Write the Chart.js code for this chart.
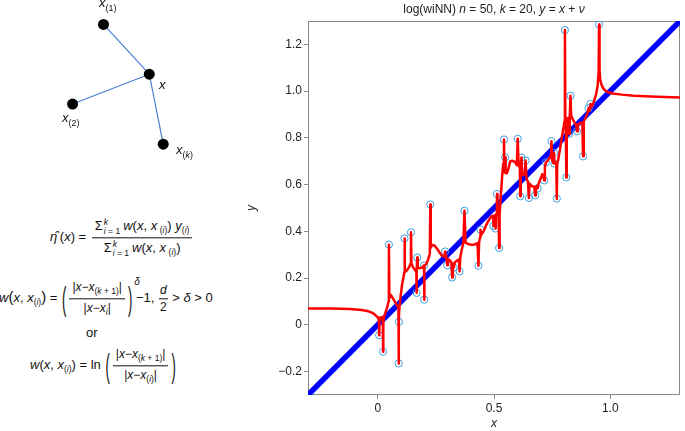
<!DOCTYPE html>
<html><head><meta charset="utf-8">
<script src="https://cdn.jsdelivr.net/npm/chart.js@4.4.0/dist/chart.umd.min.js"></script>
<style>
html,body{margin:0;padding:0;background:#fff;width:685px;height:431px;overflow:hidden;position:relative;font-family:"Liberation Sans",Arial,sans-serif;color:#111;}
#main{position:absolute;left:240px;top:0;}
#diag{position:absolute;left:0;top:0;}
.lbl{position:absolute;font-style:italic;font-size:13px;line-height:1;}
.lbl sub{font-size:9px;font-style:normal;vertical-align:-4px;}
.f{position:absolute;font-size:13px;white-space:nowrap;line-height:1.2;transform:translateY(-50%);}
.f i{font-style:italic;}
.frac{display:inline-block;vertical-align:middle;text-align:center;margin:0 2px;}
.frac .n{display:block;border-bottom:1px solid #111;padding:0 3px 2px;}
.frac .d{display:block;padding:2px 3px 0;}
.f sub{font-size:8.5px;vertical-align:-3px;}
.lim{display:inline-block;vertical-align:middle;font-size:8.5px;line-height:8.5px;text-align:left;margin:0 3px 0 1px;}
.lim span{display:block;}
.bp{display:inline-block;vertical-align:middle;transform:scale(1,2.6);font-size:13px;margin:0 1px;}
.mp{font-size:15px;}
.sd{position:relative;top:-17px;font-size:10px;font-style:italic;margin-left:1px;}
.small{font-size:12px;}
</style>
</head><body>
<canvas id="diag" width="240" height="200"></canvas>
<div class="lbl" style="left:99px;top:-4px">x<sub>(1)</sub></div>
<div class="lbl" style="left:159px;top:78px">x</div>
<div class="lbl" style="left:62px;top:111px">x<sub>(2)</sub></div>
<div class="lbl" style="left:176px;top:143px">x<sub>(<i>k</i>)</sub></div>

<div class="f" style="left:50px;top:238px"><i>η̂</i>&#8201;(<i>x</i>) = <span class="frac"><span class="n">Σ<span class="lim"><span><i>k</i></span><span><i>i</i> = 1</span></span><i>w</i>(<i>x</i>, <i>x</i>&#8201;<sub>(<i>i</i>)</sub>) <i>y</i><sub>(<i>i</i>)</sub></span><span class="d">Σ<span class="lim"><span><i>k</i></span><span><i>i</i> = 1</span></span><i>w</i>(<i>x</i>, <i>x</i>&#8201;<sub>(<i>i</i>)</sub>)</span></span></div>

<div class="f" style="left:-1px;top:299px"><i>w</i><span class="mp">(</span><i>x</i>, <i>x</i><sub>(<i>i</i>)</sub><span class="mp">)</span> = <span class="bp">(</span><span class="frac small"><span class="n">|<i>x</i>−<i>x</i><sub>(<i>k</i> + 1)</sub>|</span><span class="d">|<i>x</i>−<i>x</i><sub><i>i</i></sub>|</span></span><span class="bp">)</span><span class="sd">δ</span><span style="margin-left:-4px">−1, </span><span class="frac" style="font-size:12px;margin:0 1px"><span class="n" style="padding:0 1px 1px"><i>d</i></span><span class="d" style="padding:1px 1px 0">2</span></span> &gt; <i>δ</i> &gt; 0</div>

<div class="f" style="left:86px;top:333px">or</div>

<div class="f" style="left:30px;top:366px"><i>w</i>(<i>x</i>, <i>x</i><sub>(<i>i</i>)</sub>) = ln <span class="bp">(</span><span class="frac small"><span class="n">|<i>x</i>−<i>x</i><sub>(<i>k</i> + 1)</sub>|</span><span class="d">|<i>x</i>−<i>x</i><sub>(<i>i</i>)</sub>|</span></span><span class="bp">)</span></div>

<canvas id="main" width="445" height="431"></canvas>
<script>
// ---- diagram nodes: x(1), x, x(2), x(k)
const nodeX = [102.7, 150.7, 70.3, 165.3];
const nodeY = [20, 72.7, 104.3, 146.7];
const edges = [[0,1],[2,1],[1,3]];

// ---- main chart data
const xTickValues = [0, 0.5, 1.0];
const xTickLabels = ['0', '0.5', '1.0'];
const yTickValues = [-0.2, 0, 0.2, 0.4, 0.6, 0.8, 1.0, 1.2];
const yTickLabels = ['\u22120.2', '0', '0.2', '0.4', '0.6', '0.8', '1.0', '1.2'];

const refLineX = [-0.3, 1.3];
const refLineY = [-0.3, 1.3];

const sampleX = [0.006,0.023,0.048,0.090,0.091,0.115,0.143,0.167,0.170,0.199,0.200,0.226,0.290,0.299,0.320,0.327,0.352,0.373,0.433,0.442,0.497,0.507,0.513,0.522,0.543,0.548,0.602,0.613,0.618,0.636,0.650,0.677,0.688,0.716,0.723,0.747,0.758,0.760,0.770,0.805,0.811,0.823,0.829,0.857,0.883,0.907,0.915,0.952];
const sampleY = [-0.044,-0.115,0.343,-0.165,0.013,0.370,0.396,0.137,0.288,0.254,0.108,0.515,0.314,0.255,0.203,0.245,0.229,0.488,0.253,0.407,0.423,0.412,0.560,0.329,0.793,0.717,0.796,0.550,0.716,0.703,0.543,0.554,0.584,0.618,0.695,0.786,0.736,0.690,0.540,1.261,0.631,0.817,0.980,0.828,0.721,0.927,0.945,1.285];

// red estimator curve
const curveX = [-0.30,-0.20,-0.12,-0.07,-0.04,-0.02,-0.008,0.002,0.005,0.006,0.007,0.010,0.016,0.020,0.022,0.023,0.024,0.027,0.034,0.042,0.046,0.048,0.050,0.056,0.066,0.077,0.085,0.089,0.090,0.0905,0.091,0.092,0.098,0.105,0.111,0.114,0.115,0.117,0.124,0.134,0.141,0.143,0.145,0.151,0.160,0.166,0.167,0.168,0.170,0.172,0.180,0.190,0.199,0.200,0.201,0.209,0.217,0.224,0.226,0.228,0.235,0.244,0.255,0.267,0.277,0.286,0.290,0.294,0.299,0.302,0.310,0.317,0.320,0.323,0.327,0.332,0.343,0.349,0.352,0.355,0.361,0.368,0.373,0.378,0.388,0.402,0.418,0.429,0.433,0.436,0.440,0.442,0.445,0.455,0.468,0.480,0.490,0.496,0.497,0.499,0.505,0.507,0.509,0.512,0.513,0.515,0.520,0.522,0.524,0.530,0.536,0.540,0.543,0.545,0.547,0.548,0.550,0.555,0.561,0.570,0.580,0.590,0.598,0.602,0.606,0.611,0.613,0.615,0.618,0.621,0.627,0.632,0.636,0.640,0.646,0.650,0.653,0.662,0.673,0.677,0.680,0.686,0.688,0.692,0.700,0.708,0.716,0.719,0.723,0.730,0.740,0.745,0.747,0.750,0.755,0.758,0.760,0.765,0.768,0.770,0.772,0.776,0.784,0.792,0.800,0.803,0.805,0.807,0.809,0.811,0.813,0.818,0.823,0.826,0.829,0.832,0.838,0.846,0.853,0.857,0.861,0.871,0.880,0.883,0.886,0.893,0.900,0.907,0.911,0.915,0.920,0.930,0.940,0.946,0.950,0.952,0.954,0.957,0.962,0.970,0.980,0.995,1.010,1.050,1.10,1.20,1.30];
const curveY = [0.070,0.070,0.068,0.064,0.058,0.050,0.040,0.030,0.015,-0.044,0.015,0.030,0.034,0.030,0.010,-0.115,0.010,0.035,0.055,0.080,0.100,0.343,0.115,0.128,0.112,0.093,0.082,0.070,-0.165,0.050,0.013,0.060,0.120,0.175,0.205,0.225,0.370,0.225,0.232,0.245,0.262,0.396,0.262,0.248,0.235,0.228,0.137,0.235,0.288,0.245,0.242,0.245,0.254,0.108,0.250,0.262,0.280,0.305,0.515,0.330,0.342,0.340,0.326,0.308,0.295,0.292,0.314,0.295,0.255,0.282,0.276,0.268,0.203,0.262,0.245,0.268,0.276,0.280,0.229,0.288,0.320,0.350,0.488,0.352,0.346,0.343,0.344,0.350,0.253,0.355,0.375,0.407,0.385,0.400,0.430,0.452,0.465,0.466,0.423,0.462,0.470,0.412,0.472,0.480,0.560,0.480,0.470,0.329,0.470,0.560,0.650,0.690,0.793,0.652,0.660,0.717,0.650,0.648,0.665,0.700,0.702,0.697,0.683,0.796,0.682,0.672,0.550,0.672,0.716,0.650,0.640,0.648,0.703,0.625,0.612,0.543,0.605,0.594,0.590,0.554,0.592,0.596,0.584,0.605,0.625,0.645,0.618,0.675,0.695,0.702,0.716,0.720,0.786,0.705,0.692,0.736,0.690,0.694,0.690,0.540,0.692,0.705,0.752,0.805,0.850,0.870,1.261,0.870,0.865,0.631,0.868,0.885,0.817,0.900,0.980,0.895,0.882,0.866,0.857,0.828,0.858,0.864,0.864,0.721,0.870,0.884,0.900,0.927,0.915,0.945,0.932,0.955,0.990,1.025,1.080,1.285,1.090,1.050,1.028,1.012,1.001,0.994,0.990,0.985,0.980,0.976,0.973];

const titleParts = [['log(wiNN) ',0],['n',1],[' = 50, ',0],['k',1],[' = 20, ',0],['y',1],[' = ',0],['x',1],[' + ',0],['\u03BD',1]];

const FONT = '"Liberation Sans", Arial, sans-serif';
const zip = (xs, ys) => xs.map((x, i) => ({x, y: ys[i]}));

// ---- diagram chart
new Chart(document.getElementById('diag'), {
  type: 'scatter',
  data: {
    datasets: [
      ...edges.map(e => ({
        data: e.map(k => ({x: nodeX[k], y: nodeY[k]})),
        showLine: true, borderColor: '#4a7fd4', borderWidth: 1.2,
        pointRadius: 0, order: 2
      })),
      { data: zip(nodeX, nodeY), pointRadius: 5.5, pointBackgroundColor: '#000',
        pointBorderColor: '#000', borderWidth: 0, order: 1 }
    ]
  },
  options: {
    responsive: false, animation: false, events: [],
    layout: {padding: 0},
    plugins: {legend: {display: false}, tooltip: {enabled: false}},
    scales: {
      x: {display: false, min: 0, max: 240},
      y: {display: false, min: 0, max: 200, reverse: true}
    }
  }
});

// ---- main chart
const framePlugin = {
  id: 'frameTitle',
  beforeDatasetsDraw(c) {
    const a = c.chartArea, ctx = c.ctx;
    ctx.save();
    ctx.strokeStyle = '#8a8a8a'; ctx.lineWidth = 1;
    ctx.strokeRect(a.left + 0.5, a.top + 0.5, a.width - 1, a.height - 1);
    ctx.restore();
  },
  afterDraw(c) {
    const a = c.chartArea, ctx = c.ctx;
    ctx.save();
    ctx.fillStyle = '#222';
    ctx.textBaseline = 'alphabetic';
    const fnt = it => (it ? 'italic ' : '') + '12px ' + FONT;
    let w = 0;
    titleParts.forEach(([t, it]) => { ctx.font = fnt(it); w += ctx.measureText(t).width; });
    let x = (a.left + a.right) / 2 - w / 2;
    titleParts.forEach(([t, it]) => { ctx.font = fnt(it); ctx.fillText(t, x, 13); x += ctx.measureText(t).width; });
    ctx.restore();
  }
};

const tickFont = {family: FONT, size: 12};
new Chart(document.getElementById('main'), {
  type: 'scatter',
  data: {
    datasets: [
      { label: 'estimate', data: zip(curveX, curveY), showLine: true,
        borderColor: '#ff0000', borderWidth: 2.5, pointRadius: 0,
        borderJoinStyle: 'round', borderCapStyle: 'round', tension: 0, order: 0 },
      { label: 'samples', data: zip(sampleX, sampleY), pointRadius: 3.6,
        pointBorderColor: '#3d9ee0', pointBackgroundColor: 'rgba(255,255,255,0)',
        pointBorderWidth: 1, order: 1 },
      { label: 'y = x', data: zip(refLineX, refLineY), showLine: true,
        borderColor: '#0000ff', borderWidth: 5.5, pointRadius: 0, clip: 0, order: 2 }
    ]
  },
  options: {
    responsive: false, animation: false, events: [],
    layout: {padding: {top: 21, right: 1, left: 0, bottom: 0}},
    plugins: {legend: {display: false}, tooltip: {enabled: false}, title: {display: false}},
    scales: {
      x: {
        type: 'linear', min: -0.3, max: 1.3,
        afterBuildTicks: s => { s.ticks = xTickValues.map(v => ({value: v})); },
        afterFit: s => { s.height = 36; },
        ticks: {callback: (v, i) => xTickLabels[i], font: tickFont, color: '#222', padding: 2, maxRotation: 0},
        grid: {drawOnChartArea: false, drawTicks: true, tickLength: 4, color: '#8a8a8a'},
        border: {display: false},
        title: {display: true, text: 'x', font: {family: FONT, size: 12, style: 'italic'}, color: '#222', padding: {top: 0, bottom: 0}}
      },
      y: {
        type: 'linear', min: -0.3, max: 1.3,
        afterBuildTicks: s => { s.ticks = yTickValues.map(v => ({value: v})); },
        afterFit: s => { s.width = 68; },
        ticks: {callback: (v, i) => yTickLabels[i], font: tickFont, color: '#222', padding: 2},
        grid: {drawOnChartArea: false, drawTicks: true, tickLength: 4, color: '#8a8a8a'},
        border: {display: false},
        title: {display: true, text: 'y', font: {family: FONT, size: 12, style: 'italic'}, color: '#222', padding: {top: 4, bottom: 0}}
      }
    }
  },
  plugins: [framePlugin]
});
</script>
</body></html>
